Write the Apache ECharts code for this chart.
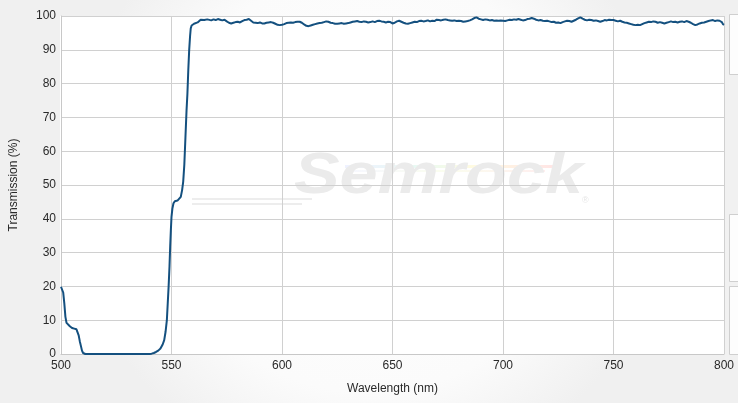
<!DOCTYPE html>
<html>
<head>
<meta charset="utf-8">
<script src="https://cdn.jsdelivr.net/npm/echarts@6/dist/echarts.min.js"></script>
<style>
html,body{margin:0;padding:0;background:#fff;}
#chart{width:738px;height:403px;}
</style>
</head>
<body>
<div id="chart"></div>
<script>
// ---- data ----
var xTicks = [500, 550, 600, 650, 700, 750, 800];
var yTicks = [0, 10, 20, 30, 40, 50, 60, 70, 80, 90, 100];

// blocking region and transition edge
var edgeWavelength = [500, 500.5, 501, 501.5, 502, 502.5, 503, 504, 505, 506, 507, 507.5, 508, 508.5, 509, 509.5, 510, 510.5, 511, 520, 530, 540,
  541, 542, 543, 544, 545, 546, 546.7, 547.3, 547.9, 548.3, 548.7, 549.1, 549.4, 549.7, 550.0, 550.4, 550.9, 551.5, 552.7, 553.5, 554.2, 554.8, 555.3, 555.8, 556.3, 556.8, 557.2, 557.6, 558, 558.4, 558.7, 559.1, 559.5, 560.2];
var edgeTransmission = [19.9, 19.5, 18.2, 15, 11, 9.2, 8.8, 8.2, 7.7, 7.5, 7.3, 6.8, 5.5, 3.8, 2.4, 1.0, 0.3, 0.05, 0, 0, 0, 0,
  0.1, 0.3, 0.6, 1.0, 1.6, 2.8, 4.1, 6.5, 10, 15, 20, 26, 31.7, 36.5, 40.6, 43, 44.6, 45.2, 45.4, 45.9, 46.5, 48.5, 51, 56, 64, 72, 77, 84, 89.9, 94, 96.3, 97.2, 97.6, 97.7];

// pass band
var passWavelength = [561, 561.8, 562.5, 563.2, 564, 564.8, 565.5, 566.2, 567, 568, 569, 570, 571, 572, 573, 574, 575, 576, 577, 578, 579,
  580, 581, 582, 583, 584, 585, 586, 587, 588, 589, 590, 591, 592, 593, 594, 595, 596, 597, 598, 599,
  600, 601, 602, 603, 604, 605, 606, 607, 608, 609, 610, 611, 612, 613, 614, 615, 616, 617, 618, 619,
  620, 621, 622, 623, 624, 625, 626, 627, 628, 629, 630, 631, 632, 633, 634, 635, 636, 637, 638, 639,
  640, 641, 642, 643, 644, 645, 646, 647, 648, 649, 650, 651, 652, 653, 654, 655, 656, 657, 658, 659,
  660, 661, 662, 663, 664, 665, 666, 667, 668, 669, 670, 671, 672, 673, 674, 675, 676, 677, 678, 679,
  680, 681, 682, 683, 684, 685, 686, 687, 688, 689, 690, 691, 692, 693, 694, 695, 696, 697, 698, 699,
  700, 701, 702, 703, 704, 705, 706, 707, 708, 709, 710, 711, 712, 713, 714, 715, 716, 717, 718, 719,
  720, 721, 722, 723, 724, 725, 726, 727, 728, 729, 730, 731, 732, 733, 734, 735, 736, 737, 738, 739,
  740, 741, 742, 743, 744, 745, 746, 747, 748, 749, 750, 751, 752, 753, 754, 755, 756, 757, 758, 759,
  760, 761, 762, 763, 764, 765, 766, 767, 768, 769, 770, 771, 772, 773, 774, 775, 776, 777, 778, 779,
  780, 781, 782, 783, 784, 785, 786, 787, 788, 789, 790, 791, 792, 793, 794, 795, 796, 797, 798, 799, 799.5, 800];
var passTransmission = [97.8, 98.1, 98.3, 98.9, 99.3, 98.8, 98.6, 99.0, 98.8, 98.7, 99.0, 98.8, 99.1, 98.9, 98.7, 98.9, 98.4, 98.0, 97.8, 98.0, 98.2,
  98.3, 98.1, 98.5, 98.8, 98.9, 99.1, 98.6, 98.1, 98.0, 97.9, 98.1, 97.8, 97.8, 98.0, 98.1, 98.2, 98.0, 97.7, 97.4, 97.3,
  97.4, 97.6, 97.9, 98.0, 98.1, 98.0, 98.2, 98.3, 98.3, 98.0, 97.5, 97.1, 97.0, 97.2, 97.4, 97.6, 97.8, 97.9, 98.0, 98.2,
  98.4, 98.3, 98.0, 97.9, 97.7, 97.7, 97.8, 97.9, 97.7, 97.8, 97.9, 98.1, 98.3, 98.4, 98.5, 98.3, 98.2, 98.4, 98.3, 98.1,
  98.2, 98.4, 98.2, 98.5, 98.6, 98.4, 98.3, 98.1, 98.3, 98.2, 97.8, 98.0, 98.4, 98.6, 98.3, 98.0, 97.8, 97.7, 97.9, 98.1,
  98.3, 98.2, 98.5, 98.6, 98.4, 98.5, 98.7, 98.4, 98.6, 98.5, 98.9, 98.8, 98.7, 98.9, 99.0, 98.8, 98.7, 98.6, 98.7, 98.5,
  98.6, 98.5, 98.3, 98.4, 98.5, 98.7, 99.0, 99.4, 99.6, 99.2, 99.0, 98.8, 99.0, 98.9, 98.7, 98.8, 98.6, 98.7, 98.6, 98.7,
  98.6, 98.5, 98.7, 98.9, 98.8, 99.0, 98.9, 99.1, 98.9, 98.7, 98.8, 99.1, 99.2, 99.4, 99.2, 98.9, 98.7, 98.8, 98.6, 98.5,
  98.6, 98.4, 98.2, 98.3, 98.0, 98.1, 97.9, 98.2, 98.4, 98.6, 98.5, 98.3, 98.6, 98.9, 99.3, 99.6, 99.2, 98.9, 98.7, 98.9,
  98.8, 98.6, 98.7, 98.5, 98.3, 98.5, 98.8, 98.7, 98.9, 98.8, 98.8, 98.6, 98.4, 98.6, 98.3, 98.1, 98.0, 97.8, 97.6, 97.4,
  97.3, 97.4, 97.3, 97.6, 97.9, 98.1, 98.3, 98.2, 98.4, 98.3, 98.0, 98.2, 98.0, 97.8, 98.0, 98.2, 98.4, 98.2, 98.3, 98.1,
  98.3, 98.4, 98.2, 98.5, 98.3, 98.0, 97.6, 97.3, 97.5, 97.8, 98.0, 98.1, 98.3, 98.5, 98.7, 98.8, 98.5, 98.7, 98.6, 98.2, 97.6, 97.4];

var xTitle = 'Wavelength (nm)';
var yTitle = 'Transmission (%)';
var watermark = 'Semrock';

// ---- build series ----
var points = [];
edgeWavelength.forEach(function (w, i) { points.push([w, edgeTransmission[i]]); });
passWavelength.forEach(function (w, i) { points.push([w, passTransmission[i]]); });

var chart = echarts.init(document.getElementById('chart'), null, {renderer: 'canvas'});
var labelFont = {color: '#2a2a2a', fontFamily: 'Liberation Sans, Arial, sans-serif', fontSize: 12};

chart.setOption({
  animation: false,
  backgroundColor: {
    type: 'radial', x: 0.5, y: 0.45, r: 0.75,
    colorStops: [{offset: 0, color: '#ffffff'}, {offset: 0.7, color: '#fbfbfb'}, {offset: 1, color: '#f0f0f0'}]
  },
  grid: {left: 60, right: 14, top: 16, bottom: 49, show: false},
  xAxis: {
    type: 'value', min: xTicks[0], max: xTicks[xTicks.length - 1], interval: 50,
    axisLine: {show: true, lineStyle: {color: '#c8c8c8', width: 1}},
    axisTick: {show: false},
    splitLine: {show: true, lineStyle: {color: '#d0d0d0', width: 1}},
    axisLabel: Object.assign({margin: 6}, labelFont),
    name: xTitle, nameLocation: 'middle', nameGap: 29,
    nameTextStyle: labelFont
  },
  yAxis: {
    type: 'value', min: yTicks[0], max: yTicks[yTicks.length - 1], interval: 10,
    axisLine: {show: true, lineStyle: {color: '#c8c8c8', width: 1}},
    axisTick: {show: false},
    splitLine: {show: true, lineStyle: {color: '#d0d0d0', width: 1}},
    axisLabel: Object.assign({margin: 5}, labelFont),
    name: yTitle, nameLocation: 'middle', nameGap: 41, nameRotate: 90,
    nameTextStyle: labelFont
  },
  graphic: [
    // plot-area background (behind grid lines)
    {type: 'rect', silent: true, z: -20, shape: {x: 60, y: 16, width: 664, height: 338}, style: {fill: '#ffffff'}},
    // watermark swooshes
    {type: 'rect', silent: true, z: -10, shape: {x: 192, y: 198, width: 120, height: 2}, style: {fill: '#ededed'}},
    {type: 'rect', silent: true, z: -10, shape: {x: 192, y: 203, width: 110, height: 2}, style: {fill: '#ededed'}},
    {type: 'rect', silent: true, z: -10, shape: {x: 345, y: 165, width: 210, height: 3},
      style: {fill: {type: 'linear', x: 0, y: 0, x2: 1, y2: 0, colorStops: [
        {offset: 0, color: 'rgba(200,210,255,0.3)'}, {offset: 0.35, color: 'rgba(190,240,220,0.35)'},
        {offset: 0.6, color: 'rgba(255,245,180,0.4)'}, {offset: 1, color: 'rgba(255,190,190,0.4)'}]}}},
    {type: 'rect', silent: true, z: -10, shape: {x: 345, y: 170, width: 200, height: 2},
      style: {fill: {type: 'linear', x: 0, y: 0, x2: 1, y2: 0, colorStops: [
        {offset: 0, color: 'rgba(220,225,255,0.25)'}, {offset: 0.5, color: 'rgba(240,250,200,0.3)'},
        {offset: 1, color: 'rgba(255,200,200,0.3)'}]}}},
    {type: 'text', silent: true, z: -10, x: 294, y: 206, scaleX: 1.2,
      style: {text: watermark, fill: '#ebebeb', font: 'italic bold 57px "Liberation Sans", Arial, sans-serif', textVerticalAlign: 'bottom', textBaseline: 'alphabetic'}},
    {type: 'text', silent: true, z: -10, x: 582, y: 196,
      style: {text: '\u00ae', fill: '#e6e6e6', font: '9px "Liberation Sans", Arial, sans-serif'}},
    // right side partial panels
    {type: 'rect', silent: true, shape: {x: 725, y: 10, width: 13, height: 350}, style: {fill: '#f1f1f1'}},
    {type: 'rect', silent: true, shape: {x: 729.5, y: 14.5, width: 12, height: 60}, style: {fill: '#fdfdfd', stroke: '#cfcfcf', lineWidth: 1}},
    {type: 'rect', silent: true, shape: {x: 729.5, y: 214.5, width: 12, height: 67}, style: {fill: '#fdfdfd', stroke: '#cfcfcf', lineWidth: 1}},
    {type: 'rect', silent: true, shape: {x: 729.5, y: 286.5, width: 12, height: 68}, style: {fill: '#fdfdfd', stroke: '#cfcfcf', lineWidth: 1}}
  ],
  series: [{
    type: 'line',
    data: points,
    showSymbol: false,
    smooth: false,
    z: 5,
    lineStyle: {color: '#14507f', width: 2},
    clip: true
  }]
});
</script>
</body>
</html>
